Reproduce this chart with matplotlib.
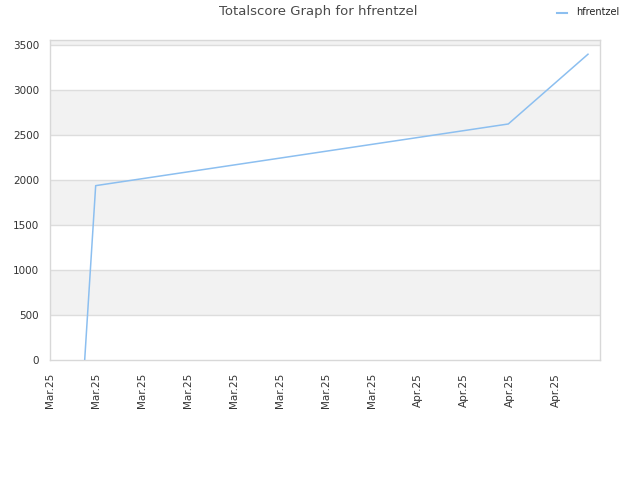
import matplotlib
matplotlib.use("Agg")
import matplotlib.pyplot as plt

# data (x in tick-interval units)
x_vals = [0.754, 0.993, 9.963, 11.696]
y_vals = [0, 1937, 2622, 3397]
tick_labels = ["Mar.25"] * 8 + ["Apr.25"] * 4
y_ticks = [0, 500, 1000, 1500, 2000, 2500, 3000, 3500]
series_name = "hfrentzel"

fig = plt.figure(figsize=(6.4, 4.8), dpi=100)
ax = fig.add_axes([50/640, 1-360/480, 550/640, 320/480])

ymax = 3555
xmax = 11.957
ax.set_xlim(0, xmax)
ax.set_ylim(0, ymax)

# alternating bands
edges = y_ticks + [ymax]
for i in range(len(edges) - 1):
    if i % 2 == 1:
        ax.axhspan(edges[i], edges[i+1], color="#f2f2f2", zorder=0, lw=0)
for yt in y_ticks[1:]:
    ax.axhline(yt, color="#dddddd", lw=1, zorder=1)

ax.plot(x_vals, y_vals, color="#8cbff0", lw=1.1, zorder=3, label=series_name)

ax.set_xticks(range(len(tick_labels)))
ax.set_xticklabels(tick_labels, rotation=90, fontsize=7.5, color="#333333", va="top")
ax.set_yticks(y_ticks)
ax.set_yticklabels([str(v) for v in y_ticks], fontsize=7.5, color="#333333")
ax.tick_params(axis="x", length=0, pad=9.5)
ax.tick_params(axis="y", length=0, pad=7.7)
for s in ax.spines.values():
    s.set_color("#d8d8d8")
    s.set_linewidth(1)

fig.text(318/640, 1-12/480, "Totalscore Graph for hfrentzel", ha="center", va="center",
         fontsize=9.5, color="#4a4a4a")
# legend
fig.add_artist(plt.Line2D([557/640, 567/640], [1-13/480, 1-13/480], color="#8cbff0", lw=1.5))
fig.text(576/640, 1-12/480, series_name, ha="left", va="center", fontsize=7, color="#222222")

fig.savefig("out.png", dpi=100)
